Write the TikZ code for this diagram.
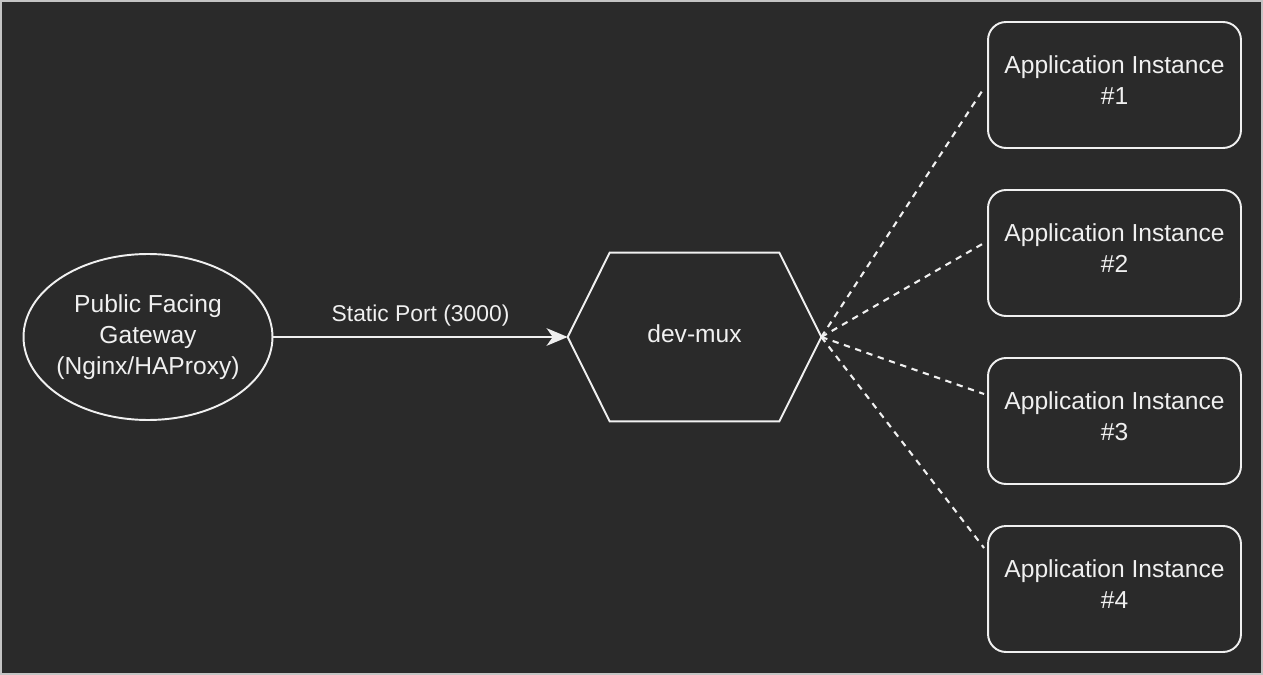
\documentclass[tikz,border=0pt]{standalone}
\usepackage{fontspec}
\setmainfont{Liberation Sans}
\usetikzlibrary{positioning, arrows.meta, shapes.geometric}
\definecolor{bgdark}{HTML}{2A2A2A}
\definecolor{inkwhite}{HTML}{F0F0F0}
\definecolor{framegray}{HTML}{C4C4C4}

\begin{document}
\begin{tikzpicture}[
        x=0.02cm, y=-0.02cm,
        gateway/.style={draw=inkwhite, ellipse, inner xsep=-4pt, inner ysep=0pt, minimum width=4.98cm, minimum height=3.32cm, align=center, line width=1.1pt, text=inkwhite},
        hexbox/.style={minimum width=5.06cm, minimum height=3.36cm, align=center, text=inkwhite, text depth=3.4pt},
        app/.style={draw=inkwhite, rectangle, rounded corners=0.36cm, minimum width=5.06cm, minimum height=2.52cm, align=center, line width=1.1pt, text=inkwhite, text depth=5.2pt},
        arrow/.style={-{Stealth[length=12pt, width=10pt, inset=3.5pt]}, draw=inkwhite, line width=1.1pt},
        link/.style={draw=inkwhite, line width=1.2pt, dash pattern=on 3.6pt off 3.2pt},
        font=\fontsize{14}{17.5}\selectfont
    ]
    % Background and frame
    \useasboundingbox (0,0) rectangle (1263,675);
    \fill[bgdark] (0,0) rectangle (1263,675);
    \draw[framegray, line width=1.2pt] (1,1) rectangle (1262,674);

    % Nodes
    \node[gateway] (gw) at (148, 337) {Public Facing\\Gateway\\(Nginx/HAProxy)};
    \node[hexbox] (mux) at (694.5, 337) {dev-mux};
    \node[app] (inst1) at (1114.5, 85) {Application Instance\\\#1};
    \node[app] (inst2) at (1114.5, 253) {Application Instance\\\#2};
    \node[app] (inst3) at (1114.5, 421) {Application Instance\\\#3};
    \node[app] (inst4) at (1114.5, 589) {Application Instance\\\#4};

    % Hexagon outline of dev-mux
    \draw[inkwhite, line width=1.1pt] (mux.west) -- ([xshift=0.84cm]mux.north west) -- ([xshift=-0.84cm]mux.north east)
        -- (mux.east) -- ([xshift=-0.84cm]mux.south east) -- ([xshift=0.84cm]mux.south west) -- cycle;

    % Gateway to dev-mux
    \draw[arrow] (gw.east) -- node[above=2pt, text=inkwhite, font=\fontsize{13}{15}\selectfont] {Static Port (3000)} (mux.west);

    % dev-mux to instances
    \draw[link] (mux.east) -- ([xshift=-0.06cm, yshift=-0.06cm]inst1.west);
    \draw[link] (mux.east) -- ([xshift=-0.06cm, yshift=0.2cm]inst2.west);
    \draw[link] (mux.east) -- ([xshift=-0.06cm, yshift=0.54cm]inst3.west);
    \draw[link] (mux.east) -- ([xshift=-0.06cm, yshift=0.82cm]inst4.west);
    \end{tikzpicture}
\end{document}
